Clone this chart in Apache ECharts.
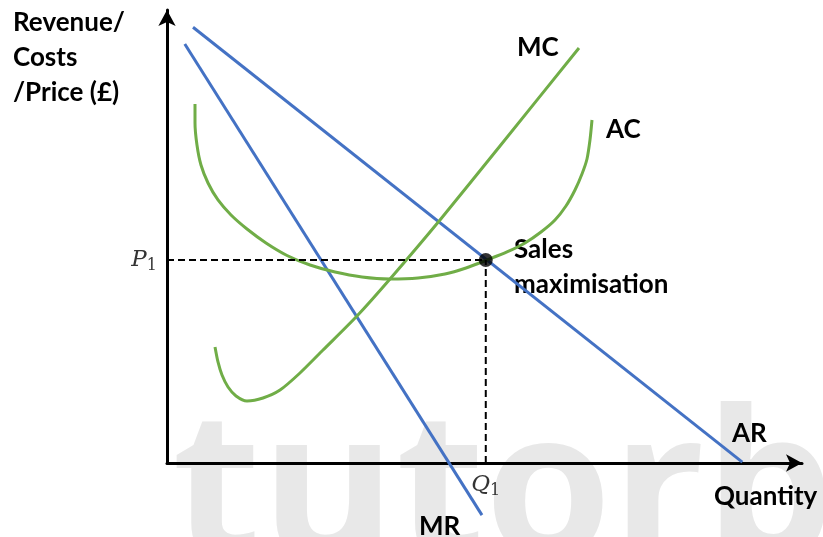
<!DOCTYPE html>
<html><head><meta charset="utf-8">
<script src="https://cdn.jsdelivr.net/npm/echarts@6/dist/echarts.min.js"></script>
<style>html,body{margin:0;padding:0;background:#fff}#c{width:823px;height:537px}</style>
</head><body><div id="c"></div>
<script>
// Values in a 0–100 abstract scale
const arLine = [[4.1, 96.2], [90.6, 0.2]];
const mrLine = [[2.8, 92.5], [49.6, -11.5]];
const mcCurve = [[7.56, 25.61], [8.03, 22.3], [8.66, 19.43], [9.61, 16.78], [10.87, 14.79], [12.6, 13.69], [15.12, 14.35], [17.8, 16.11], [20.94, 19.87], [24.57, 24.94], [29.92, 32.45], [35.12, 40.62], [42.99, 53.64], [52.44, 69.98], [64.88, 91.61]];
const acCurve = [[4.41, 79.25], [4.41, 75.06], [4.72, 70.2], [5.35, 65.78], [6.46, 61.81], [8.03, 58.06], [10.08, 54.75], [12.6, 51.66], [15.59, 48.57], [18.9, 45.81], [22.52, 43.71], [26.46, 42.16], [30.71, 41.06], [35.12, 40.62], [39.53, 40.84], [43.78, 41.72], [47.09, 43.05], [50.39, 44.81], [53.54, 46.58], [56.38, 48.57], [58.9, 50.99], [61.1, 53.64], [62.83, 56.73], [64.25, 60.26], [65.35, 63.8], [66.14, 67.11], [66.61, 71.3], [66.93, 75.72]];
const P1 = 44.8, Q1 = 50.2;

const chart = echarts.init(document.getElementById('c'));
const blue = '#4472C4', green = '#70AD47';
const F = 'bold 26px Lato';
const mathRich = {i: {fontFamily: 'DejaVu Serif', fontStyle: 'italic', fontSize: 23, color: '#000'}, s: {fontFamily: 'DejaVu Serif', fontSize: 16, color: '#000', padding: [12, 0, 0, 0]}};
chart.setOption({
  animation: false,
  grid: {left: 167, right: 21, top: 10, bottom: 74},
  xAxis: {type: 'value', min: 0, max: 100, splitLine: {show: false}, axisTick: {show: false}, axisLabel: {show: false},
    axisLine: {onZero: false, lineStyle: {color: '#000', width: 3}, symbol: ['none', 'arrow'], symbolSize: [13, 16]}},
  yAxis: {type: 'value', min: 0, max: 100, splitLine: {show: false}, axisTick: {show: false}, axisLabel: {show: false},
    axisLine: {onZero: false, lineStyle: {color: '#000', width: 3}, symbol: ['none', 'arrow'], symbolSize: [13, 16]}},
  graphic: [
    {type: 'text', left: 172, top: 396, z: -10, style: {text: 'tutorbase', font: 'bold 205px "Open Sans"', fill: '#e8e8e8'}},
    {type: 'text', left: 13, top: 5, style: {text: 'Revenue/\nCosts\n/Price (£)', lineHeight: 35, font: F, fill: '#000'}},
    {type: 'text', left: 517, top: 35, style: {text: 'MC', font: F, fill: '#000'}},
    {type: 'text', left: 606, top: 117, style: {text: 'AC', font: F, fill: '#000'}},
    {type: 'text', left: 732, top: 421, style: {text: 'AR', font: F, fill: '#000'}},
    {type: 'text', left: 419, top: 514, style: {text: 'MR', font: F, fill: '#000'}},
    {type: 'text', left: 714, top: 484, style: {text: 'Quantity', font: F, fill: '#000'}},
    {type: 'text', left: 514, top: 232, style: {text: 'Sales\nmaximisation', lineHeight: 35, font: F, fill: '#000'}}
  ],
  series: [
    {type: 'line', data: arLine, symbol: 'none', clip: false, lineStyle: {color: blue, width: 3}},
    {type: 'line', data: mrLine, symbol: 'none', clip: false, lineStyle: {color: blue, width: 3}},
    {type: 'line', data: mcCurve, symbol: 'none', smooth: 0.25, clip: false, lineStyle: {color: green, width: 3}},
    {type: 'line', data: acCurve, symbol: 'none', smooth: 0.25, clip: false, lineStyle: {color: green, width: 3}},
    {type: 'line', data: [[0, P1], [Q1, P1]], symbol: 'none', clip: false, lineStyle: {color: '#000', width: 2, type: [7, 4]}},
    {type: 'line', data: [[Q1, 0], [Q1, P1]], symbol: 'none', clip: false, lineStyle: {color: '#000', width: 2, type: [7, 4]}},
    {type: 'scatter', data: [[Q1, P1]], symbolSize: 14, itemStyle: {color: '#000'}, z: 10},
    {type: 'scatter', data: [[0, P1]], symbolSize: 0, clip: false, silent: true,
      label: {show: true, position: 'left', distance: 10, formatter: '{i|P}{s|1}', rich: mathRich}},
    {type: 'scatter', data: [[Q1, 0]], symbolSize: 0, clip: false, silent: true,
      label: {show: true, position: 'bottom', distance: 8, formatter: '{i|Q}{s|1}', rich: mathRich}}
  ]
});
</script></body></html>
